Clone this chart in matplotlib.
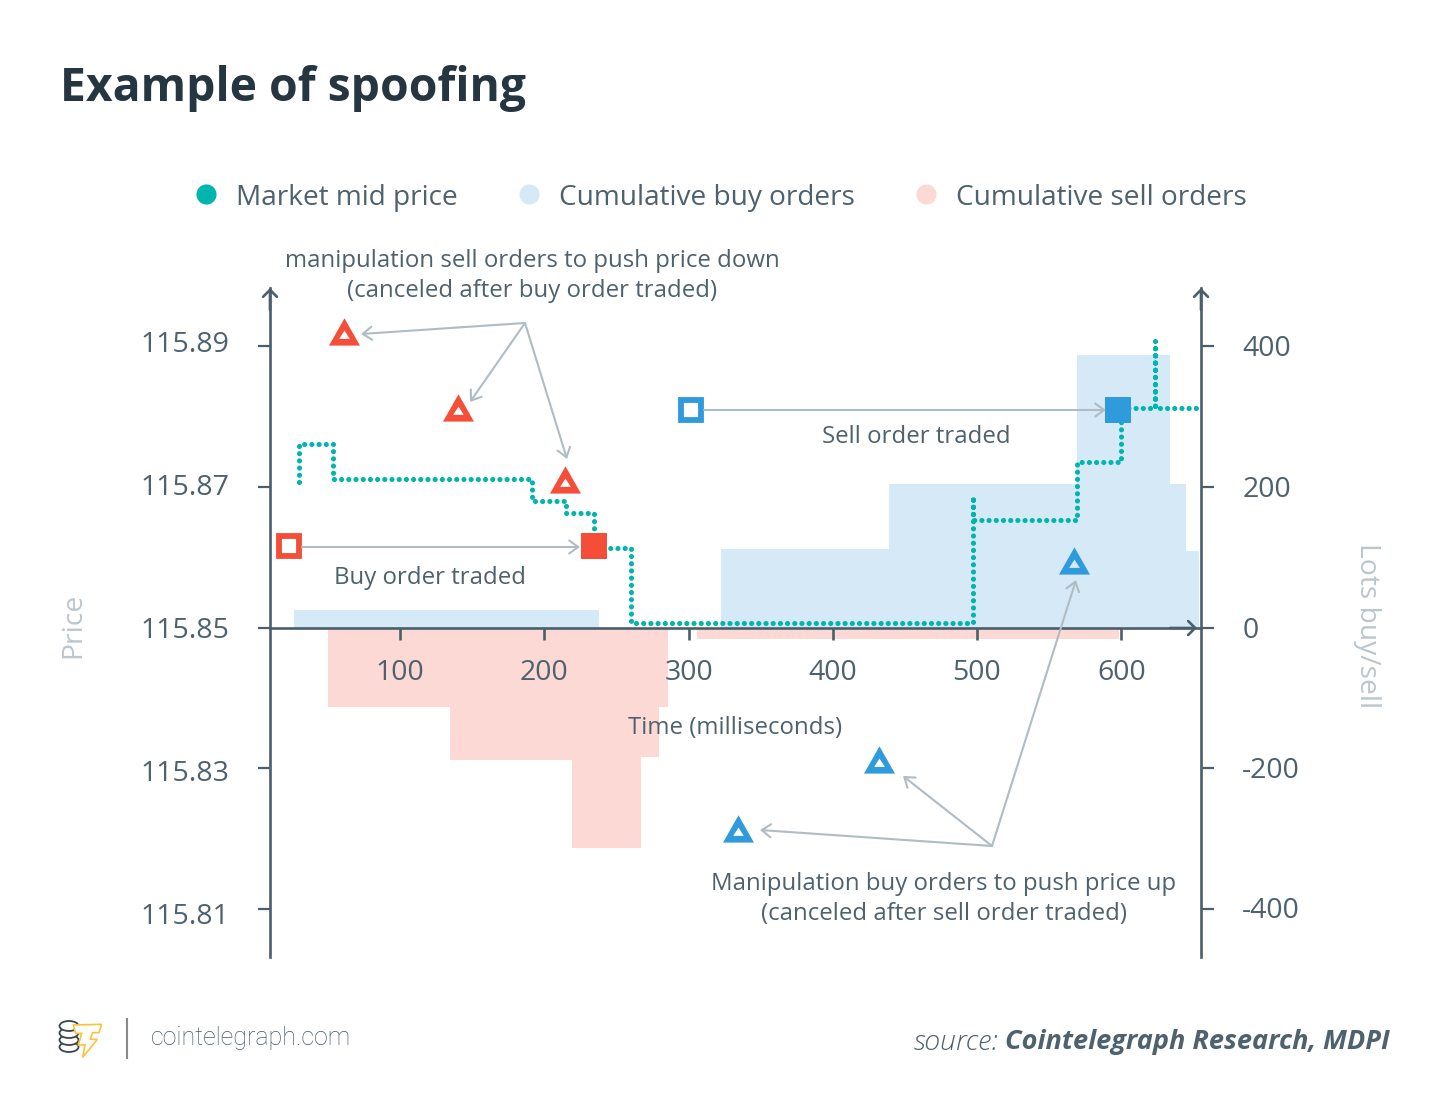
import numpy as np
import matplotlib
matplotlib.use('Agg')
import matplotlib.pyplot as plt
from matplotlib.patches import Ellipse, Polygon
from matplotlib.path import Path
from matplotlib.transforms import ScaledTranslation

plt.rcParams['font.family'] = ['Open Sans', 'DejaVu Sans']
plt.rcParams['axes.unicode_minus'] = False

# data
buy_left = [26.5, 322.6, 439, 569.5, 634, 645]
buy_right = [238, 439, 569.5, 634, 645, 654]
buy_lots = [25, 112, 203, 387, 203, 108]

sell_left = [50, 134.7, 219.3, 267, 279.6, 306]
sell_right = [134.7, 219.3, 267, 279.6, 285.9, 598.6]
sell_lots = [-113, -188, -313, -183, -113, -17]

mid_time = [30, 30, 53.5, 53.5, 191.5, 191.5, 215, 215, 234.5, 234.5, 260, 260,
            497.4, 497.4, 497.4, 569.5, 569.5, 600, 600, 623.6, 623.6, 623.6, 656]
mid_price = [115.8707, 115.8760, 115.8760, 115.8710, 115.8710, 115.8679, 115.8679,
             115.8663, 115.8663, 115.8613, 115.8613, 115.8507, 115.8507, 115.8687,
             115.8653, 115.8653, 115.8735, 115.8735, 115.8812, 115.8812, 115.8906,
             115.8812, 115.8812]

red_tri_time = [61.2, 140.2, 214.4]
red_tri_price = [115.8913, 115.8805, 115.8704]
blue_tri_time = [334.4, 432.2, 567.4]
blue_tri_price = [115.8209, 115.8307, 115.8588]

buy_order_time = [23, 234.5]
buy_order_price = [115.8615, 115.8615]
sell_order_time = [301.8, 597.9]
sell_order_price = [115.8809, 115.8809]

x_ticks = [100, 200, 300, 400, 500, 600]
price_ticks = [115.81, 115.83, 115.85, 115.87, 115.89]
lots_ticks = [-400, -200, 0, 200, 400]

# colors
TEAL = '#00B5AD'
BUY = '#D5E9F7'
SELL = '#FCD9D5'
RED = '#F44E38'
BLUE = '#2F9BDD'
AXIS = '#4A5E6C'
TEXT = '#4E616E'
ARROW = '#AFBCC4'
PALE = '#BAC6CD'

fig = plt.figure(figsize=(14.5, 11.19), dpi=100)
fig.patch.set_facecolor('white')

# axes in pixel position 270..1201 / 288..957
ax = fig.add_axes([270/1450, 1-957/1119, (1201-270)/1450, (957-288)/1119])
ax.set_xlim(9.7, 655.3)
ax.set_ylim(-467.4, 481.6)
price = ax.twinx()
price.set_ylim(115.85 - 467.4*0.0001, 115.85 + 481.6*0.0001)
price.patch.set_visible(False)
ax.yaxis.tick_right()
price.yaxis.tick_left()

ax.bar(buy_left, buy_lots, width=np.array(buy_right)-np.array(buy_left), align='edge',
       color=BUY, linewidth=0, zorder=1)
ax.bar(sell_left, sell_lots, width=np.array(sell_right)-np.array(sell_left), align='edge',
       color=SELL, linewidth=0, zorder=1)

for a in [ax, price]:
    for s in ['top', 'left', 'right', 'bottom']:
        a.spines[s].set_visible(False)

ax.spines['bottom'].set_visible(True)
ax.spines['bottom'].set_position(('data', 0))
ax.spines['bottom'].set_color(AXIS)
ax.spines['bottom'].set_linewidth(1.9)
ax.spines['right'].set_visible(True)
ax.spines['right'].set_color(AXIS)
ax.spines['right'].set_linewidth(1.9)
price.spines['left'].set_visible(True)
price.spines['left'].set_color(AXIS)
price.spines['left'].set_linewidth(1.9)

ax.set_xticks(x_ticks)
ax.set_yticks(lots_ticks)
price.set_yticks(price_ticks)
price.set_yticklabels(['%.2f' % p for p in price_ticks])
ax.tick_params(axis='x', length=8.5, width=1.9, color=AXIS, labelcolor=TEXT, labelsize=20.5, pad=14.5)
ax.tick_params(axis='y', length=9, width=1.6, color=AXIS, labelcolor=TEXT, labelsize=20.5, pad=20.7)
price.tick_params(axis='y', length=9, width=1.6, color=AXIS, labelcolor=TEXT, labelsize=20.5, pad=20)

# labels are not quite level with their ticks in the original
for lab, dy in zip(price.get_yticklabels(), [-4, -2, 0, 2, 4]):
    lab.set_transform(lab.get_transform() + ScaledTranslation(0, dy/100, fig.dpi_scale_trans))
for lab, dy in zip(ax.get_yticklabels(), [2, 1, 0, 0, 0]):
    lab.set_transform(lab.get_transform() + ScaledTranslation(0, dy/100, fig.dpi_scale_trans))

# mid price
price.plot(mid_time, mid_price, color=TEAL, lw=3.7, linestyle=(0, (0.01, 1.39)),
           dash_capstyle='round', dash_joinstyle='round', zorder=3, clip_on=False)

# orders
tri = Path.make_compound_path(
    Path([(-15.5, -9.1), (15.5, -9.1), (0, 18.2), (0, 0)], closed=True),
    Path([(-5.3, -2.4), (0, 5.9), (5.3, -2.4), (0, 0)], closed=True))
price.plot(red_tri_time, red_tri_price, ls='none', marker=tri, ms=26.2, mew=0, mfc=RED, zorder=4)
price.plot(blue_tri_time, blue_tri_price, ls='none', marker=tri, ms=26.2, mew=0, mfc=BLUE, zorder=4)
price.plot(buy_order_time[0], buy_order_price[0], ls='none', marker='s', ms=15, mew=4.2,
           mec=RED, mfc='white', zorder=4, clip_on=False)
price.plot(buy_order_time[1], buy_order_price[1], ls='none', marker='s', ms=19, mew=0,
           mfc=RED, zorder=4)
price.plot(sell_order_time[0], sell_order_price[0], ls='none', marker='s', ms=15, mew=4.2,
           mec=BLUE, mfc='white', zorder=4)
price.plot(sell_order_time[1], sell_order_price[1], ls='none', marker='s', ms=19, mew=0,
           mfc=BLUE, zorder=4)

# overlay in pixels for text and arrows
deco = fig.add_axes([0, 0, 1, 1])
deco.set_xlim(0, 1450)
deco.set_ylim(1119, 0)
deco.axis('off')


def arrow(x0, y0, x1, y1, color=ARROW, lw=1.5, hl=0.65, hw=0.47):
    deco.annotate('', xy=(x1, y1), xytext=(x0, y0),
                  arrowprops=dict(arrowstyle='->,head_length=%s,head_width=%s' % (hl, hw),
                                  color=color, lw=lw, shrinkA=0, shrinkB=0))


# axis arrow heads
arrow(270, 310, 270, 288, AXIS, 1.9, 0.5, 0.5)
arrow(1201, 310, 1201, 288, AXIS, 1.9, 0.5, 0.5)
arrow(1170, 628, 1197, 628, AXIS, 1.9, 0.5, 0.5)

# callouts
arrow(525, 323, 361, 334)
arrow(525, 323, 470, 402)
arrow(525, 323, 567, 459)
arrow(992, 846, 760, 830)
arrow(992, 846, 903, 776)
arrow(992, 846, 1076, 580)
arrow(302, 547, 580, 547)
arrow(704, 410, 1106, 410)

deco.text(60.5, 88, 'Example of spoofing', fontsize=33.3, fontweight='bold', color='#263640',
          va='center', ha='left')

# legend
legend_x = [206, 529, 926]
legend_names = ['Market mid price', 'Cumulative buy orders', 'Cumulative sell orders']
legend_colors = [TEAL, BUY, SELL]
legend_text_x = [236, 559, 956]
for lx, name, col, tx in zip(legend_x, legend_names, legend_colors, legend_text_x):
    deco.plot(lx, 194, 'o', ms=14.5, mfc=col, mec='none')
    deco.text(tx, 198, name, fontsize=20.2, color=TEXT, va='center', ha='left')

deco.text(532, 261, 'manipulation sell orders to push price down', fontsize=17.3, color=TEXT,
          ha='center', va='center')
deco.text(532, 291, '(canceled after buy order traded)', fontsize=17.3, color=TEXT,
          ha='center', va='center')
deco.text(430, 578, 'Buy order traded', fontsize=17.3, color=TEXT, ha='center', va='center')
deco.text(916, 437, 'Sell order traded', fontsize=17.3, color=TEXT, ha='center', va='center')
deco.text(735, 728, 'Time (milliseconds)', fontsize=17.3, color=TEXT, ha='center', va='center')
deco.text(944, 884, 'Manipulation buy orders to push price up', fontsize=17.3, color=TEXT,
          ha='center', va='center')
deco.text(944, 914, '(canceled after sell order traded)', fontsize=17.3, color=TEXT,
          ha='center', va='center')

deco.text(73, 625, 'Price', fontsize=20.3, color=PALE, rotation=90, ha='center', va='center')
deco.text(1367, 626, 'Lots buy/sell', fontsize=20.3, color=PALE, rotation=270, ha='center', va='center')

# footer logo
for cy in [1047, 1040, 1033]:
    deco.add_patch(Ellipse((69, cy), 19, 10, fc='white', ec='#37474F', lw=1.3))
deco.add_patch(Ellipse((69, 1026), 19, 10, fc='white', ec='#37474F', lw=1.3))
bolt = np.array([(100, 75), (185, 73), (177, 98), (158, 98), (150, 118), (172, 118), (128, 172),
                 (135, 135), (115, 135), (125, 100), (107, 100)]) / 3 + np.array([40, 1000])
deco.add_patch(Polygon(bolt, closed=True, fc='white', ec='#F9C23C', lw=1.2))
deco.plot([127, 127], [1019, 1058], color='#8A8A8A', lw=1.5)
deco.text(151, 1038.5, 'cointelegraph.com', fontsize=18, family='Roboto', fontweight='light',
          color='#43586A', ha='left', va='center')

deco.text(1390, 1042, 'Cointelegraph Research, MDPI', fontsize=19.5, fontweight='bold', style='italic',
          color='#4E616E', ha='right', va='center')
deco.text(999, 1042, 'source:', fontsize=20.5, fontweight='light', style='italic',
          color='#4E616E', ha='right', va='center')

fig.savefig('out.png', dpi=100, facecolor='white')
